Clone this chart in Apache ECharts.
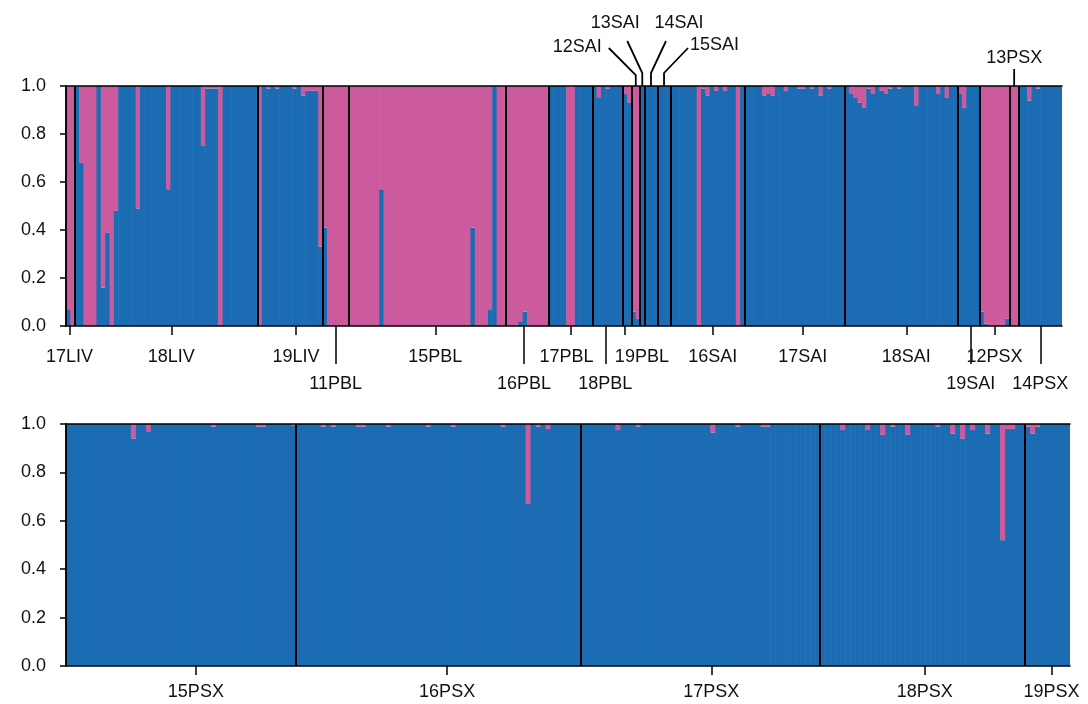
<!DOCTYPE html>
<style>
body {margin: 0; background: #fff;}
#div_echart {height: 704px; width: 1088px;}
</style>
<script src='https://cdn.jsdelivr.net/npm/echarts@6/dist/echarts.min.js'></script>
<div id='div_echart'></div>
<script>
// share of cluster 1 (blue) for each individual, left to right; the rest is cluster 2 (pink)
let q_17LIV = [0.07, 0]
let q_18LIV = [1, 0.68, 0, 0, 0, 1, 0.16, 0.39, 0, 0.48, 1, 1, 1, 1, 0.49, 1, 1, 1, 1, 1, 1, 0.57, 1, 1, 1, 1, 1, 1, 1, 0.75, 0.99, 0.99, 0.99, 0, 1, 1, 1, 1, 1, 1, 1, 1]
let q_19LIV = [0, 1, 0.99, 1, 0.99, 1, 1, 1, 0.99, 1, 0.96, 0.98, 0.98, 0.98, 0.33]
let q_11PBL = [0.41, 0, 0, 0, 0, 0]
let q_15PBL = [0, 0, 0, 0, 0, 0, 0, 0.57, 0, 0, 0, 0, 0, 0, 0, 0, 0, 0, 0, 0, 0, 0, 0, 0, 0, 0, 0, 0, 0.41, 0, 0, 0, 0.07, 1, 0, 0]
let q_16PBL = [0, 0, 0, 0.02, 0.06, 0, 0, 0, 0, 0]
let q_17PBL = [1, 1, 1, 1, 0, 0, 1, 1, 1, 1]
let q_18PBL = [1, 0.95, 1, 0.99, 1, 1, 1]
let q_19PBL = [0.97, 0.93]
let q_12SAI = [0.06, 0.03]
let q_13SAI = [1]
let q_14SAI = [1, 1, 1]
let q_15SAI = [1, 1, 1]
let q_16SAI = [1, 1, 1, 1, 1, 1, 0, 0.99, 0.96, 1, 0.98, 1, 0.98, 1, 1, 0, 1]
let q_17SAI = [1, 1, 1, 1, 0.96, 0.97, 0.96, 1, 1, 0.98, 1, 1, 0.99, 0.99, 1, 0.99, 1, 0.96, 1, 0.99, 1, 1, 1]
let q_18SAI = [1, 0.97, 0.95, 0.93, 0.91, 0.99, 0.97, 1, 0.98, 0.97, 0.99, 1, 0.99, 1, 1, 1, 0.92, 1, 1, 1, 1, 0.97, 1, 0.95, 1, 1]
let q_19SAI = [0.97, 0.91, 1, 1, 1]
let q_12PSX = [0.06, 0.01, 0, 0, 0, 0, 0.03]
let q_13PSX = [0, 0]
let q_14PSX = [1, 1, 0.94, 1, 0.99, 1, 1, 1, 1, 1]

let q_15PSX = [1, 1, 1, 1, 1, 1, 1, 1, 1, 1, 1, 1, 1, 0.94, 1, 1, 0.97, 1, 1, 1, 1, 1, 1, 1, 1, 1, 1, 1, 1, 0.99, 1, 1, 1, 1, 1, 1, 1, 1, 0.99, 0.99, 1, 1, 1, 1, 1, 0.995]
let q_16PSX = [1, 1, 1, 1, 1, 0.99, 1, 0.99, 1, 1, 1, 1, 0.99, 0.99, 1, 1, 1, 1, 0.99, 1, 1, 1, 1, 1, 1, 1, 0.99, 1, 1, 1, 1, 0.99, 1, 1, 1, 1, 1, 1, 1, 1, 1, 0.99, 1, 1, 1, 1, 0.67, 1, 0.99, 1, 0.98, 1, 1, 1, 1, 1, 1]
let q_17PSX = [1, 1, 1, 1, 1, 1, 1, 0.975, 1, 1, 1, 0.99, 1, 1, 1, 1, 1, 1, 1, 1, 1, 1, 1, 1, 1, 1, 0.965, 1, 1, 1, 1, 0.99, 1, 1, 1, 1, 0.99, 0.99, 1, 1, 1, 1, 1, 1, 1, 1, 1, 1]
let q_18PSX = [1, 1, 1, 1, 0.975, 1, 1, 1, 1, 0.975, 1, 1, 0.955, 1, 0.99, 1, 1, 0.955, 1, 1, 1, 1, 1, 0.99, 1, 1, 0.96, 1, 0.94, 1, 0.975, 1, 1, 0.96, 1, 1, 0.52, 0.98, 0.98, 1, 1]
let q_19PSX = [0.99, 0.96, 0.99, 1, 1, 1, 1, 1, 1]

let pops_top = ['17LIV', '18LIV', '19LIV', '11PBL', '15PBL', '16PBL', '17PBL', '18PBL', '19PBL', '12SAI', '13SAI', '14SAI', '15SAI', '16SAI', '17SAI', '18SAI', '19SAI', '12PSX', '13PSX', '14PSX']
let vals_top = [q_17LIV, q_18LIV, q_19LIV, q_11PBL, q_15PBL, q_16PBL, q_17PBL, q_18PBL, q_19PBL, q_12SAI, q_13SAI, q_14SAI, q_15SAI, q_16SAI, q_17SAI, q_18SAI, q_19SAI, q_12PSX, q_13PSX, q_14PSX]
let pops_bottom = ['15PSX', '16PSX', '17PSX', '18PSX', '19PSX']
let vals_bottom = [q_15PSX, q_16PSX, q_17PSX, q_18PSX, q_19PSX]

// how each population is named on the chart
let labels_short = ['17LIV', '18LIV', '19LIV', '15PBL', '17PBL', '19PBL', '16SAI', '17SAI', '18SAI', '12PSX', '15PSX', '16PSX', '17PSX', '18PSX', '19PSX']
let labels_long = ['11PBL', '16PBL', '18PBL', '19SAI', '14PSX']
let labels_above = ['12SAI', '13SAI', '14SAI', '15SAI', '13PSX']

// the original ticks sit a little off the middle of some groups (in individuals)
let tick_nudge = {'17LIV': -0.2, '18LIV': 1.2, '19LIV': 1.4, '15PBL': 1.9, '16PBL': -0.7, '18PBL': -0.5, '19PBL': -0.5,
	'16SAI': 1.2, '17SAI': 1.9, '18SAI': 1.2, '19SAI': 0.5,
	'15PSX': 3, '16PSX': 1.8, '17PSX': 2.2, '18PSX': 0.4, '19PSX': 0.8}
// and two crowded names are pushed aside from their tick
let label_push = {'17PBL': 'l', '19PBL': 'r'}

let blue = '#1b6cb3'
let pink = '#cc5b9e'
let font = 'Liberation Sans'
let fs = 18
let ink = '#111'

function build(pops, vals) {
	let data = [], bounds = [], centers = {}, n = 0
	pops.forEach((p, k) => {
		centers[p] = n + vals[k].length / 2
		vals[k].forEach(v => data.push([n++, v]))
		bounds.push(n)
	})
	bounds.pop()
	return {data, bounds, centers, n}
}

let set_top = build(pops_top, vals_top)
let set_bot = build(pops_bottom, vals_bottom)

function renderBar(params, api) {
	let i = api.value(0), v = api.value(1)
	let p0 = api.coord([i, 0]), pv = api.coord([i, v]), p1 = api.coord([i + 1, 1])
	let w = p1[0] - p0[0] + 0.6
	return {type: 'group', children: [
		{type: 'rect', shape: {x: p0[0], y: pv[1], width: w, height: p0[1] - pv[1]}, style: {fill: blue}},
		{type: 'rect', shape: {x: p0[0], y: p1[1], width: w, height: pv[1] - p1[1]}, style: {fill: pink}}
	]}
}

let rich = {
	l: {fontSize: fs, fontFamily: font, color: ink, padding: [0, 8, 0, 0]},
	r: {fontSize: fs, fontFamily: font, color: ink, padding: [0, 0, 0, 34]}
}

function xAxes(set, gi) {
	let names = Object.keys(set.centers)
	let at = p => set.centers[p] + (tick_nudge[p] || 0)
	let short = names.filter(p => labels_short.includes(p))
	let long = names.filter(p => labels_long.includes(p))
	let byValue = {}
	names.forEach(p => byValue[at(p)] = p)
	let fmt = v => {
		let p = byValue[v] || ''
		return label_push[p] ? '{' + label_push[p] + '|' + p + '}' : p
	}
	let lbl = {fontSize: fs, color: ink, fontFamily: font, formatter: fmt, rich}
	let axes = [
		{gridIndex: gi, type: 'value', min: 0, max: set.n, position: 'bottom', z: 10,
			axisLine: {show: true, onZero: false, lineStyle: {color: '#000', width: 1.5}},
			axisTick: {show: true, customValues: short.map(at), length: 9, lineStyle: {color: '#000', width: 1.5}},
			axisLabel: Object.assign({customValues: short.map(at), margin: gi ? 11 : 16}, lbl),
			splitLine: {show: false}},
		{gridIndex: gi, type: 'value', min: 0, max: set.n, position: 'top', z: 10,
			axisLine: {show: true, onZero: false, lineStyle: {color: '#000', width: 1.5}},
			axisTick: {show: false}, axisLabel: {show: false}, splitLine: {show: false}}
	]
	if (long.length) axes.push({gridIndex: gi, type: 'value', min: 0, max: set.n, position: 'bottom', z: 10,
		axisLine: {show: false, onZero: false},
		axisTick: {show: true, customValues: long.map(at), length: 38, lineStyle: {color: '#000', width: 1.5}},
		axisLabel: Object.assign({customValues: long.map(at), margin: 43}, lbl),
		splitLine: {show: false}})
	return axes
}

function yAxes(gi) {
	return [
		{gridIndex: gi, type: 'value', min: 0, max: 1, interval: 0.2, position: 'left', z: 10,
			axisLine: {show: true, lineStyle: {color: '#000', width: 1.5}},
			axisTick: {show: true, length: 6, lineStyle: {color: '#000', width: 1.5}},
			axisLabel: {fontSize: fs, color: ink, fontFamily: font, margin: 20, formatter: v => v.toFixed(1)},
			splitLine: {show: false}},
		{gridIndex: gi, type: 'value', min: 0, max: 1, position: 'right', z: 10,
			axisLine: {show: true, lineStyle: {color: '#000', width: 1.5}},
			axisTick: {show: false}, axisLabel: {show: false}, splitLine: {show: false}}
	]
}

let xa_top = xAxes(set_top, 0)
let xa_bot = xAxes(set_bot, 1)

function seriesFor(set, xi, yi) {
	return {type: 'custom', xAxisIndex: xi, yAxisIndex: yi, data: set.data, renderItem: renderBar, clip: true,
		encode: {x: 0, y: 1},
		markLine: {silent: true, symbol: ['none', 'none'], label: {show: false},
			lineStyle: {color: '#000', width: 2, type: 'solid'},
			data: set.bounds.map(b => ({xAxis: b}))}}
}

let div_echart = document.getElementById('div_echart')
let echart = echarts.init(div_echart)
echart.setOption({
	animation: false,
	grid: [
		{left: 66, right: 26, top: 86, height: 240, outerBoundsMode: 'none'},
		{left: 66, right: 18, top: 424, height: 242, outerBoundsMode: 'none'}
	],
	xAxis: xa_top.concat(xa_bot),
	yAxis: yAxes(0).concat(yAxes(1)),
	series: [seriesFor(set_top, 0, 0), seriesFor(set_bot, xa_top.length, 2)]
})

// names written above the top panel, with leader lines down to their population
// [elbow rise, line end dx, line end dy, text dx, text dy, align]
let leader = {
	'12SAI': [-11, -27, -38, -34, -39, 'right'],
	'13SAI': [-13, -15, -45, -27, -63, 'center'],
	'14SAI': [-13, 15, -45, 28, -63, 'center'],
	'15SAI': [-13, 24, -38, 26, -41, 'left'],
	'13PSX': [-17, 0, -17, 0, -28, 'center']
}
let graphic = []
labels_above.forEach(p => {
	let a = echart.convertToPixel({gridIndex: 0}, [set_top.centers[p], 1])
	let [rise, ex, ey, tx, ty, align] = leader[p]
	graphic.push({type: 'polyline', silent: true, z: 20,
		shape: {points: [[a[0], a[1]], [a[0], a[1] + rise], [a[0] + ex, a[1] + ey]]},
		style: {stroke: '#000', lineWidth: 1.8, fill: null}})
	graphic.push({type: 'text', silent: true, z: 20, x: a[0] + tx, y: a[1] + ty,
		style: {text: p, fontSize: fs, fontFamily: font, fill: ink, align, verticalAlign: 'middle'}})
})
echart.setOption({graphic})
</script>
